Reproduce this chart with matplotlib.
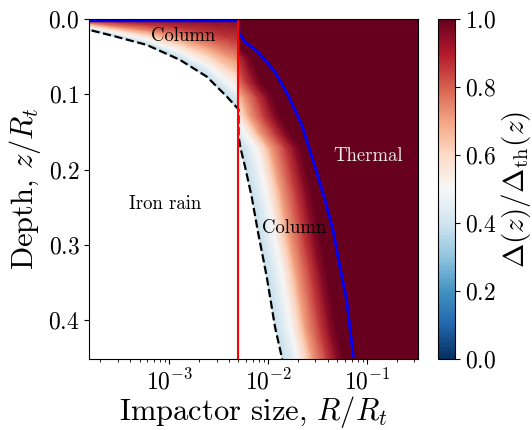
import numpy as np
import matplotlib
matplotlib.use("Agg")
from matplotlib import pyplot as plt
from matplotlib.patches import Rectangle

plt.rcParams['font.family'] = 'serif'
plt.rcParams['font.serif'] = ['cmr10']
plt.rcParams['mathtext.fontset'] = 'cm'
plt.rcParams['axes.formatter.use_mathtext'] = True
plt.rcParams['axes.unicode_minus'] = False

# critical impactor size (red line)
R_crit = 5e-3

# dashed boundary, iron rain / column (left branch, R < R_crit)
dash_left_logR = [-3.90, -3.808, -3.566, -3.228, -2.892, -2.622, -2.420, -2.301]
dash_left_z = [0.011, 0.0146, 0.0226, 0.0345, 0.0544, 0.0766, 0.103, 0.120]

# dashed boundary, right branch (R > R_crit)
dash_right_logR = [-2.301, -2.301, -2.280, -2.235, -2.168, -2.101, -2.016, -1.932, -1.865, -1.85]
dash_right_z = [0.120, 0.155, 0.172, 0.196, 0.236, 0.285, 0.342, 0.409, 0.448, 0.46]

# onset of the column gradient right of the red line
onset_logR = [-3.10, -2.88, -2.78, -2.68, -2.56, -2.50, -2.40, -2.280, -2.235, -2.168,
              -2.101, -2.016, -1.932, -1.865, -1.85]
onset_z = [0.0, 0.039, 0.052, 0.084, 0.105, 0.128, 0.150, 0.172, 0.196, 0.236,
           0.285, 0.342, 0.409, 0.448, 0.46]

# blue curve, column / thermal
blue_logR = [-3.90, -2.301, -2.301, -2.296, -2.235, -2.104, -1.932, -1.801, -1.660, -1.528,
             -1.427, -1.346, -1.276, -1.208, -1.141]
blue_z = [0.0025, 0.0025, 0.0025, 0.0186, 0.0305, 0.0438, 0.0704, 0.101, 0.141, 0.196,
          0.240, 0.280, 0.329, 0.373, 0.448]

# colour profile left of the red line: depth as fraction of boundary depth
left_frac = [0.0, 0.03, 0.25, 0.5, 0.65, 0.8, 0.9, 1.0]
left_val = [1.0, 0.95, 0.85, 0.70, 0.60, 0.50, 0.43, 0.38]

# colour profile right of the red line: decades beyond the onset
right_off = [0.0, 0.10, 0.16, 0.25, 0.30, 0.45, 0.55, 0.62, 3.0]
right_val = [0.38, 0.45, 0.50, 0.62, 0.70, 0.85, 0.95, 1.0, 1.0]

xlim = (1.556e-4, 0.323)
ylim = (0.4515, 0.0)

fig = plt.figure(figsize=(5.32, 4.30), dpi=100)
ax = fig.add_axes([0.168, 0.165, 0.617, 0.791])
cax = fig.add_axes([0.823, 0.165, 0.032, 0.791])

cmap = plt.get_cmap('RdBu_r')

# left mesh (column regime above the iron-rain boundary)
lR = np.array(dash_left_logR)
lz = np.array(dash_left_z)
fr = np.array(left_frac)
XL = np.tile(10 ** lR, (len(fr), 1))
YL = np.outer(fr, lz)
CL = np.tile(np.array(left_val)[:, None], (1, len(lR)))
ax.pcolormesh(XL, YL, CL, shading='gouraud', cmap=cmap, vmin=0, vmax=1)

# right mesh (column regime beyond the critical size), clipped at the red line
oR = np.array(onset_logR)
oz = np.array(onset_z)
off = np.array(right_off)
XR = 10 ** (oR[:, None] + off[None, :])
YR = np.tile(oz[:, None], (1, len(off)))
CR = np.tile(np.array(right_val)[None, :], (len(oz), 1))
mesh = ax.pcolormesh(XR, YR, CR, shading='gouraud', cmap=cmap, vmin=0, vmax=1)
clip = Rectangle((R_crit, ylim[1]), xlim[1] - R_crit, ylim[0] - ylim[1], transform=ax.transData)
mesh.set_clip_path(clip)

# boundaries
dash_R = 10 ** np.array(dash_left_logR + dash_right_logR[1:])
dash_zz = np.array(dash_left_z + dash_right_z[1:])
ax.plot(dash_R, dash_zz, color='black', ls='--', lw=1.6)
ax.plot(10 ** np.array(blue_logR), blue_z, color='blue', lw=2.0)
ax.axvline(R_crit, color='red', lw=1.5)

ax.text(1.37e-3, 0.023, 'Column', fontsize=13.5, ha='center', va='center')
ax.text(9.1e-4, 0.246, 'Iron rain', fontsize=13.5, ha='center', va='center')
ax.text(0.0183, 0.278, 'Column', fontsize=13.5, ha='center', va='center')
ax.text(0.1017, 0.182, 'Thermal', fontsize=13.5, ha='center', va='center', color='0.92')

ax.set_xscale('log')
ax.set_xlim(*xlim)
ax.set_ylim(*ylim)
ax.set_yticks([0.0, 0.1, 0.2, 0.3, 0.4])
ax.tick_params(labelsize=17)
ax.set_xlabel(r'Impactor size, $R/R_t$', fontsize=22, labelpad=0)
ax.set_ylabel(r'Depth, $z/R_t$', fontsize=22)

sm = plt.cm.ScalarMappable(cmap=cmap, norm=plt.Normalize(0, 1))
cb = fig.colorbar(sm, cax=cax)
cb.set_ticks([0.0, 0.2, 0.4, 0.6, 0.8, 1.0])
cb.ax.tick_params(labelsize=17)
cb.set_label(r'$\Delta(z)/\Delta_{\rm th}(z)$', fontsize=21, labelpad=2)

fig.savefig('out.png', dpi=100)
